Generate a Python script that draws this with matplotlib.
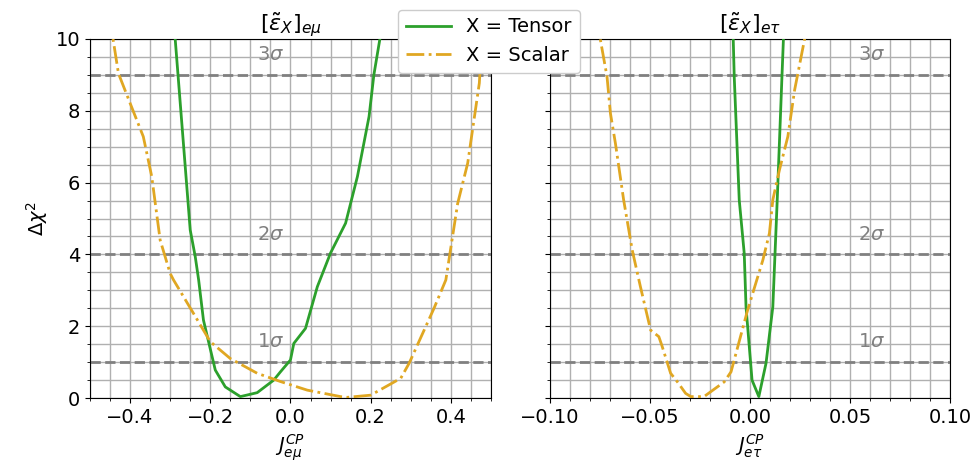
import matplotlib
matplotlib.use("Agg")
import matplotlib.pyplot as plt
from matplotlib.ticker import MultipleLocator

# left panel: J_emu
emu_tensor_x = [-0.30, -0.2875, -0.25, -0.2375, -0.229, -0.217, -0.1875, -0.1625, -0.125,
                -0.083, -0.0417, -0.025, 0.0, 0.0083, 0.0375, 0.067, 0.1, 0.1375, 0.167,
                0.196, 0.208, 0.223, 0.23]
emu_tensor_y = [11.0, 10.0, 4.68, 3.94, 3.29, 2.17, 0.78, 0.31, 0.04,
                0.15, 0.50, 0.73, 1.06, 1.52, 1.94, 3.1, 4.04, 4.87, 6.17,
                7.84, 9.0, 10.0, 10.8]

emu_scalar_x = [-0.455, -0.4425, -0.429, -0.396, -0.367, -0.346, -0.325, -0.3, -0.2917,
                -0.242, -0.2, -0.15, -0.083, -0.025, 0.042, 0.125, 0.1417, 0.2, 0.275,
                0.296, 0.358, 0.3875, 0.417, 0.442, 0.471, 0.4775, 0.485]
emu_scalar_y = [10.6, 10.0, 9.04, 8.1, 7.28, 6.17, 4.4, 3.47, 3.29,
                2.36, 1.57, 1.10, 0.69, 0.46, 0.22, 0.04, 0.02, 0.08, 0.55,
                0.97, 2.5, 3.29, 5.42, 6.54, 8.77, 10.0, 10.8]

# right panel: J_etau
etau_tensor_x = [-0.0087, -0.0084, -0.0079, -0.0054, -0.0029, -0.002, 0.001, 0.0044,
                 0.008, 0.0114, 0.0136, 0.0159, 0.0167, 0.0172]
etau_tensor_y = [10.8, 10.0, 8.95, 5.52, 4.03, 2.54, 0.50, 0.04,
                 0.97, 2.54, 5.52, 8.86, 10.0, 10.8]

etau_scalar_x = [-0.0765, -0.0749, -0.0715, -0.0698, -0.0673, -0.0632, -0.0589, -0.0548,
                 -0.0497, -0.0456, -0.0440, -0.0397, -0.0363, -0.0322, -0.0296, -0.023,
                 -0.0129, -0.0095, -0.0012, 0.0064, 0.0097, 0.0114, 0.0147, 0.0189,
                 0.0223, 0.0273, 0.029]
etau_scalar_y = [10.6, 10.0, 8.95, 7.93, 7.09, 5.52, 4.12, 3.1,
                 1.89, 1.71, 1.45, 0.69, 0.45, 0.13, 0.04, 0.04,
                 0.45, 0.73, 2.45, 3.84, 4.59, 5.52, 6.35, 7.28,
                 8.58, 10.0, 10.6]

sigma_levels = [1, 4, 9]
sigma_labels = [r"$1\sigma$", r"$2\sigma$", r"$3\sigma$"]

green = "#2ca02c"
gold = "#e0a722"

fig = plt.figure(figsize=(9.78, 4.75), dpi=100)
ax1 = fig.add_axes([0.092, 0.162, 0.410, 0.756])
ax2 = fig.add_axes([0.5624, 0.162, 0.409, 0.756])

panels = [
    (ax1, emu_tensor_x, emu_tensor_y, emu_scalar_x, emu_scalar_y,
     (-0.5, 0.5), 0.2, 0.05, -0.083, r"$[\tilde{\varepsilon}_X]_{e\mu}$", r"$J_{e\mu}^{CP}$"),
    (ax2, etau_tensor_x, etau_tensor_y, etau_scalar_x, etau_scalar_y,
     (-0.1, 0.1), 0.05, 0.01, 0.054, r"$[\tilde{\varepsilon}_X]_{e\tau}$", r"$J_{e\tau}^{CP}$"),
]

for ax, tx, ty, sx, sy, xlim, major, minor, textx, title, xlabel in panels:
    ax.grid(which="both", color="#b0b0b0", linewidth=1.0, zorder=0)
    ax.set_axisbelow(True)
    for lev, lab in zip(sigma_levels, sigma_labels):
        ax.axhline(lev, color="gray", linestyle="--", linewidth=2, zorder=1)
        ax.text(textx, lev + 0.3, lab, color="gray", fontsize=14, va="bottom", ha="left")
    ax.plot(tx, ty, color=green, linewidth=2, label="X = Tensor", zorder=3)
    ax.plot(sx, sy, color=gold, linewidth=2, linestyle="-.", label="X = Scalar", zorder=3)
    ax.set_xlim(*xlim)
    ax.set_ylim(0, 10)
    ax.xaxis.set_major_locator(MultipleLocator(major))
    ax.xaxis.set_minor_locator(MultipleLocator(minor))
    ax.yaxis.set_major_locator(MultipleLocator(2))
    ax.yaxis.set_minor_locator(MultipleLocator(0.5))
    ax.tick_params(labelsize=14)
    ax.set_title(title, fontsize=16)
    ax.set_xlabel(xlabel, fontsize=14)

ax1.set_ylabel(r"$\Delta\chi^2$", fontsize=14)
ax2.set_yticklabels([])

handles, labels = ax1.get_legend_handles_labels()
fig.legend(handles, labels, loc="upper center", bbox_to_anchor=(0.5, 1.0), fontsize=14,
           framealpha=1.0, handlelength=2.3)

fig.savefig("out.png", dpi=100)
